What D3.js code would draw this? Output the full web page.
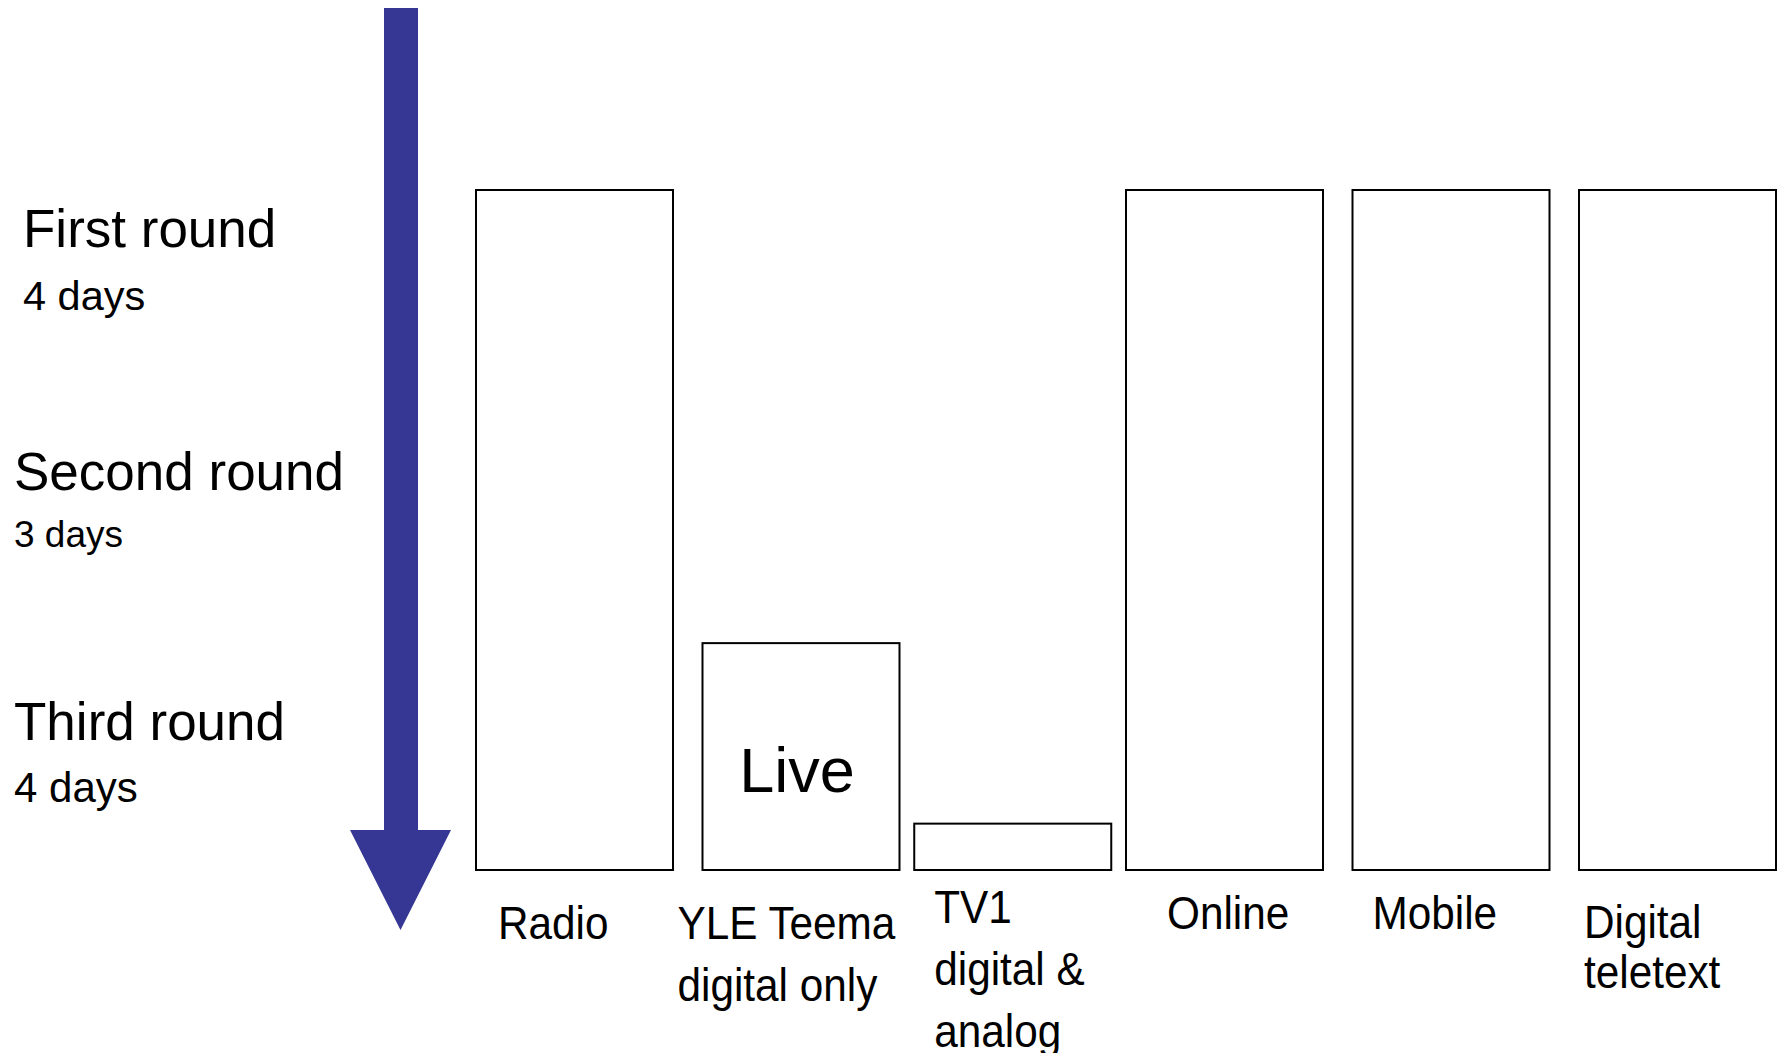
<!DOCTYPE html>
<html>
<head>
<meta charset="utf-8">
<script src="https://cdn.jsdelivr.net/npm/d3@7"></script>
<style>
  html, body { margin: 0; padding: 0; background: #fff; }
  svg { display: block; font-family: "Liberation Sans", Arial, sans-serif; }
</style>
</head>
<body>
<svg id="chart" width="1782" height="1053"></svg>
<script>
// channels and how many of the 11 days each one carries
const channels = ["Radio", "YLE Teema", "TV1", "Online", "Mobile", "Digital teletext"];
const coverageDays = [11, 3.67, 0.75, 11, 11, 11];
const channelLabels = [
    ["Radio"],
    ["YLE Teema", "digital only"],
    ["TV1", "digital &", "analog"],
    ["Online"],
    ["Mobile"],
    ["Digital", "teletext"]
];
const liveChannel = "YLE Teema";
const liveLabel = "Live";

// rounds on the left
const roundNames = ["First round", "Second round", "Third round"];
const roundDays = ["4 days", "3 days", "4 days"];
const totalDays = 11;

// layout
const arrowColor = "#363795";
const barTop = 190;
const barBottom = 870;
// bars are not evenly spaced: TV1 sits closer to its neighbours
const barUnits = 13.36;
const gapUnits = [2, 1, 1, 2, 2];
// label nudges, the original labels are not aligned to the bars
const labelDx = [22, -25, 20, 41, 20, 5];
const labelFirstBaseline = [939, 939, 923, 929, 929, 938];
const labelLineGap = [0, 62, 62, 0, 0, 50];
const roundX = [23, 14, 14];
const roundBaseline = [247, 490, 740];
const roundDaysBaseline = [310, 547, 802];
const roundDaysSize = [41.5, 37, 42];

const svg = d3.select("#chart");

// cumulative start of each bar in layout units
const starts = [];
let acc = 0;
channels.forEach((_c, i) => {
    starts.push(acc);
    acc += barUnits + (i < gapUnits.length ? gapUnits[i] : 0);
});
const totalUnits = starts[starts.length - 1] + barUnits;

const xu = d3.scaleLinear()
    .domain([0, totalUnits])
    .range([476, 1776]);
const x = c => xu(starts[channels.indexOf(c)]);
const barWidth = xu(barUnits) - xu(0);

const y = d3.scaleLinear()
    .domain([0, totalDays])
    .range([barBottom, barTop]);

// big arrow down the left side
const shaftLeft = 384, shaftRight = 418, headLeft = 350, headRight = 451;
const headTop = 830, headTip = 930;
svg.append("path")
    .attr("d", `M${shaftLeft},8 L${shaftRight},8 L${shaftRight},${headTop} L${headRight},${headTop}` +
        ` L${(headLeft + headRight) / 2},${headTip} L${headLeft},${headTop} L${shaftLeft},${headTop} Z`)
    .attr("fill", arrowColor);

// round labels
const rounds = svg.append("g").attr("fill", "#000");
rounds.selectAll("text.round")
    .data(roundNames)
    .join("text")
    .attr("class", "round")
    .attr("x", (_d, i) => roundX[i])
    .attr("y", (_d, i) => roundBaseline[i])
    .attr("font-size", 53)
    .text(d => d);
rounds.selectAll("text.days")
    .data(roundDays)
    .join("text")
    .attr("class", "days")
    .attr("x", (_d, i) => roundX[i])
    .attr("y", (_d, i) => roundDaysBaseline[i])
    .attr("font-size", (_d, i) => roundDaysSize[i])
    .text(d => d);

// bars
const data = channels.map((c, i) => ({ channel: c, days: coverageDays[i], label: channelLabels[i], idx: i }));

svg.append("g")
    .selectAll("rect")
    .data(data)
    .join("rect")
    .attr("x", d => x(d.channel))
    .attr("y", d => y(d.days))
    .attr("width", barWidth)
    .attr("height", d => y(0) - y(d.days))
    .attr("fill", "#fff")
    .attr("stroke", "#000")
    .attr("stroke-width", 2);

// "Live" inside the Teema bar
const liveDays = coverageDays[channels.indexOf(liveChannel)];
svg.append("text")
    .attr("x", x(liveChannel) + barWidth / 2 - 4)
    .attr("y", (y(liveDays) + y(0)) / 2 + 35)
    .attr("text-anchor", "middle")
    .attr("font-size", 63)
    .text(liveLabel);

// channel labels under the bars, slightly condensed like the original
const labels = svg.append("g")
    .selectAll("g")
    .data(data)
    .join("g")
    .attr("transform", d => `translate(${x(d.channel) + labelDx[d.idx]},${labelFirstBaseline[d.idx]}) scale(0.9,1)`);
labels.selectAll("text")
    .data(d => d.label.map((line, j) => ({ line, j, gap: labelLineGap[d.idx] })))
    .join("text")
    .attr("x", 0)
    .attr("y", l => l.j * l.gap)
    .attr("font-size", 47)
    .text(l => l.line);
</script>
</body>
</html>
